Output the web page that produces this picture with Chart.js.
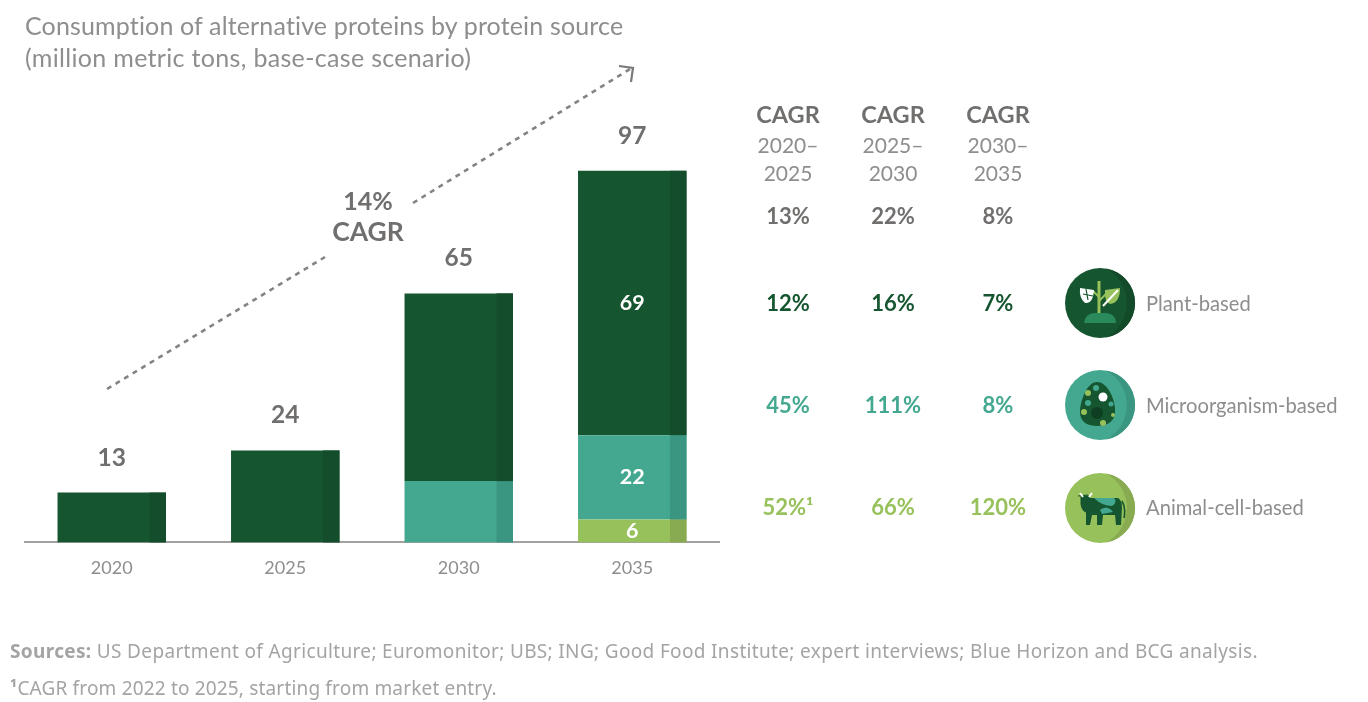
<!DOCTYPE html>
<html><head><meta charset="utf-8">
<style>
html,body{margin:0;padding:0;background:#fff;width:1368px;height:702px;overflow:hidden;font-family:Lato,sans-serif}
#c{position:absolute;left:0;top:0}
.t{position:absolute;white-space:nowrap;line-height:1;transform:translateY(-50%)}
.c{transform:translate(-50%,-50%);text-align:center}
svg{position:absolute;left:0;top:0}
</style></head><body>
<canvas id="c" width="1368" height="702"></canvas>
<svg width="1368" height="702" viewBox="0 0 1368 702" fill="none">
 <g stroke="#858382" stroke-width="2.6" stroke-dasharray="5 5">
  <line x1="107" y1="389" x2="325" y2="257"/><line x1="413" y1="203" x2="630" y2="69"/>
 </g>
 <path d="M619 66 L633 68 L631 82" stroke="#7b7978" stroke-width="2.2"/>
 <!-- plant icon -->
 <g transform="translate(1100 303)">
  <circle r="35" fill="#15552f"/><path d="M6 -34.5 A35 35 0 0 1 6 34.5 A39 39 0 0 0 6 -34.5Z" fill="#134a2a"/>
  <path d="M-16 20 Q-15 11 -6 10 L6 10 Q16 11 16 20Z" fill="#2a8a5c"/>
  <path d="M-1 10 V-22" stroke="#97c15b" stroke-width="3"/><path d="M-1 -6 L-7 -12 M-1 -2 L7 -10" stroke="#97c15b" stroke-width="2"/>
  <path d="M-20 -15 L-6 -13 Q-7 1 -15 0 Q-21 -5 -20 -15Z" fill="#fff"/>
  <path d="M-17 -9 L-7 -7 M-14 -14 L-12 -3" stroke="#15552f" stroke-width="1.2"/>
  <path d="M20 -15 L5 -13 Q4 -1 10 1 Q20 0 20 -15Z" fill="#97c15b"/><path d="M18 -13 L3 3" stroke="#fff" stroke-width="2"/>
 </g>
 <!-- microorganism icon -->
 <g transform="translate(1100 405)">
  <circle r="35" fill="#43a88f"/><path d="M6 -34.5 A35 35 0 0 1 6 34.5 A39 39 0 0 0 6 -34.5Z" fill="#3a9581"/>
  <path d="M-3 -23 C8 -23 16 -4 15 8 C14 18 5 21 -3 21 C-11 21 -20 18 -20 7 C-20 -4 -13 -23 -3 -23Z" fill="#15552f"/>
  <circle cx="-3" cy="8" r="6" fill="#0f3f22"/><circle cx="3" cy="-8" r="4.5" fill="#fff"/>
  <circle cx="-4" cy="-17" r="3" fill="#43a88f"/><circle cx="-12" cy="-12" r="3" fill="#97c15b"/><circle cx="-12" cy="-2" r="3" fill="#43a88f"/>
  <circle cx="-16" cy="7" r="3" fill="#97c15b"/><circle cx="11" cy="-1" r="2.5" fill="#43a88f"/><circle cx="3" cy="18" r="3" fill="#97c15b"/><circle cx="13" cy="10" r="2" fill="#97c15b"/>
 </g>
 <!-- animal icon -->
 <g transform="translate(1100 508)">
  <circle r="35" fill="#97c15b"/><path d="M6 -34.5 A35 35 0 0 1 6 34.5 A39 39 0 0 0 6 -34.5Z" fill="#88ab52"/>
  <path d="M-14 -10 L18 -10 Q22 -8 22 0 L21 17 L16 17 L15 7 L3 7 L2 17 L-3 17 L-3 7 L-8 7 L-10 17 L-14 17 Z" fill="#15552f"/>
  <path d="M-6 -10 L14 -10 Q18 -6 12 -2 Q2 -2 -6 -10Z M0 2 Q7 -4 13 4 L2 6Z" fill="#43a88f"/>
  <path d="M-19 -12 L-11 -12 L-9 -4 Q-10 4 -14 4 Q-18 3 -19 -4Z M-22 -12 L-12 -13" fill="#15552f" stroke="#15552f"/>
  <path d="M-20 -15 L-17 -11 M-8 -15 L-11 -11" stroke="#fff" stroke-width="2"/>
  <path d="M22 -7 Q26 0 24 10" stroke="#15552f" stroke-width="1.6"/>
 </g>
</svg>
<div id="texts"></div>
<script src="https://cdn.jsdelivr.net/npm/chart.js@4"></script>
<script>
const years = ['2020','2025','2030','2035'];
const plantValues = [13,24,49,69];
const microValues = [0,0,16,22];
const animalValues = [0,0,0,6];
const totals = [13,24,65,97];
const shownLabels = {plant:[null,null,null,69],micro:[null,null,null,22],animal:[null,null,null,6]};
const cagrPeriods = [['2020–','2025'],['2025–','2030'],['2030–','2035']];
const cagrTotal = ['13%','22%','8%'];
const cagrPlant = ['12%','16%','7%'];
const cagrMicro = ['45%','111%','8%'];
const cagrAnimal = ['52%¹','66%','120%'];
const legendLabels = ['Plant-based','Microorganism-based','Animal-cell-based'];

const GRAY='#8f8d8d', DARKGRAY='#716f6e', PLANT='#15552f', MICRO='#43a88f', ANIMAL='#97c15b';
const SHADES=['#88ab52','#3a9581','#144d2c'];
const FONT='Lato, sans-serif';

const decor={id:'decor',
 afterDatasetsDraw(chart){
  const {ctx}=chart;
  ctx.save();
  chart.data.datasets.forEach((ds,i)=>{
   chart.getDatasetMeta(i).data.forEach(el=>{
    const h=el.base-el.y; if(h<=0.5)return;
    const w=el.width*0.152;
    ctx.fillStyle=SHADES[i];
    ctx.fillRect(el.x+el.width/2-w,el.y,w,h);
   });
  });
  ctx.textAlign='center';ctx.textBaseline='middle';
  const y=chart.scales.y;
  chart.data.datasets.forEach((ds,i)=>{
   chart.getDatasetMeta(i).data.forEach((el,j)=>{
    const v=ds.shown[j]; if(v==null)return;
    ctx.fillStyle='#fff';ctx.font='bold 21.5px '+FONT;
    ctx.fillText(String(v),el.x,(el.y+el.base)/2);
   });
  });
  const top=chart.getDatasetMeta(2).data;
  ctx.fillStyle=DARKGRAY;ctx.font='bold 24.5px '+FONT;
  totals.forEach((t,j)=>ctx.fillText(String(t),top[j].x,y.getPixelForValue(t)-35));
  ctx.restore();
 }};

new Chart(document.getElementById('c'),{
 type:'bar',
 data:{labels:years,datasets:[
  {label:'Animal-cell-based',data:animalValues,backgroundColor:ANIMAL,shown:shownLabels.animal},
  {label:'Microorganism-based',data:microValues,backgroundColor:MICRO,shown:shownLabels.micro},
  {label:'Plant-based',data:plantValues,backgroundColor:PLANT,shown:shownLabels.plant}
 ]},
 options:{
  responsive:false,animation:false,
  layout:{padding:{left:25,right:649,top:121,bottom:0}},
  datasets:{bar:{barPercentage:0.625,categoryPercentage:1}},
  plugins:{legend:{display:false},title:{display:false},tooltip:{enabled:false}},
  scales:{
   x:{stacked:true,
      grid:{display:false,drawTicks:false},
      border:{display:true,color:'#a3a1a0',width:2},
      ticks:{color:GRAY,font:{family:FONT,size:18},padding:15,maxRotation:0},
      afterFit(s){s.height=159.6;}},
   y:{stacked:true,display:false,min:0,max:110}
  }
 },
 plugins:[decor]
});

const box=document.getElementById('texts');
function add(txt,x,y,size,color,bold,center,extra){
 const d=document.createElement('div');
 d.className='t'+(center?' c':'');
 d.style.cssText=`left:${x}px;top:${y}px;font-size:${size}px;color:${color};font-weight:${bold?700:400};`+(extra||'');
 d.innerHTML=txt;box.appendChild(d);
}
add('Consumption of alternative proteins by protein source',25,24.5,25,GRAY,false,false,'letter-spacing:.15px;');
add('(million metric tons, base-case scenario)',25,56.5,25,GRAY,false,false,'letter-spacing:.32px;');
add('14%',368,200,25,DARKGRAY,true,true);
add('CAGR',368,231,26.5,DARKGRAY,true,true);
const cols=[788,893,998];
cols.forEach((x,i)=>{
 add('CAGR',x,115,23.5,DARKGRAY,true,true);
 add(cagrPeriods[i][0],x,143.5,21,GRAY,false,true);
 add(cagrPeriods[i][1],x,172,21,GRAY,false,true);
 add(cagrTotal[i],x,216,22,DARKGRAY,true,true);
 add(cagrPlant[i],x,303,22,PLANT,true,true);
 add(cagrMicro[i],x,405,22,MICRO,true,true);
 add(cagrAnimal[i],x,507,22,ANIMAL,true,true);
});
[303,405,507].forEach((y,i)=>add(legendLabels[i],1146,y,20.2,GRAY));
const FOOT="font-family:'Noto Sans',sans-serif;";
add('<b>Sources:</b> US Department of Agriculture; Euromonitor; UBS; ING; Good Food Institute; expert interviews; Blue Horizon and BCG analysis.',10,651,19,'#a5a3a3',false,false,FOOT+'letter-spacing:.34px;');
add('<b>¹</b>CAGR from 2022 to 2025, starting from market entry.',10,688,19,'#a5a3a3',false,false,FOOT+'letter-spacing:.17px;');
</script>
</body></html>
